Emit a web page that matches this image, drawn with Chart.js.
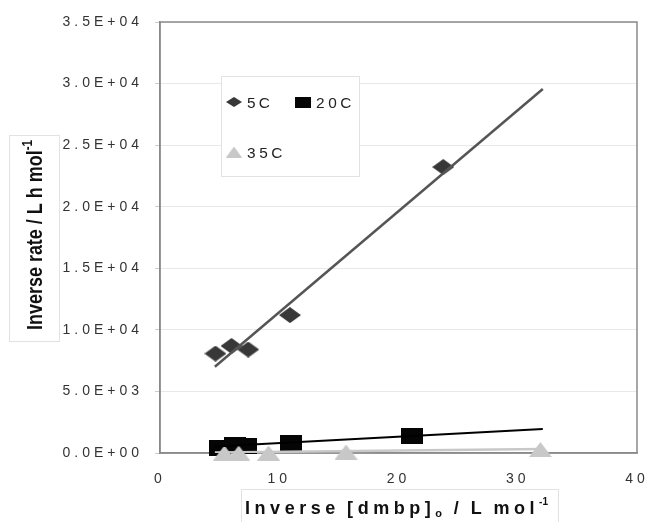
<!DOCTYPE html>
<html>
<head>
<meta charset="utf-8">
<script src="https://cdn.jsdelivr.net/npm/chart.js@4.4.1/dist/chart.umd.min.js"></script>
<style>
  body { margin: 0; background: #fff; }
  canvas { display: block; }
</style>
</head>
<body>
<canvas id="rateChart" width="646" height="522"></canvas>
<script>
// data
const x5C = [4.65, 6.0, 7.4, 10.9, 23.75];
const y5C = [8070, 8690, 8400, 11200, 23220];
const x20C = [5.0, 6.3, 7.2, 11.0, 21.1];
const y20C = [400, 670, 590, 790, 1420];
const x35C = [5.4, 6.6, 9.1, 15.6, 31.9];
const y35C = [0, 0, 0, 80, 280];
// linear fits
const fitX = [4.6, 32.1];
const fit5C = [7000, 29560];
const fit20C = [520, 1950];
const fit35C = [40, 330];

const xTicks = [0, 10, 20, 30, 40];
const yTicks = [0, 5000, 10000, 15000, 20000, 25000, 30000, 35000];
const seriesNames = ['5C', '20C', '35C'];

const FONT = "'Liberation Sans', Arial, sans-serif";

function pts(xs, ys) {
  return xs.map((x, i) => ({ x: x, y: ys[i] }));
}

// marker images (the figure is stretched sideways, so markers are wider than tall)
function marker(shape, w, h, color) {
  const c = document.createElement('canvas');
  c.width = w; c.height = h;
  const g = c.getContext('2d');
  g.fillStyle = color;
  g.beginPath();
  if (shape === 'diamond') {
    g.moveTo(w / 2, 0); g.lineTo(w, h / 2); g.lineTo(w / 2, h); g.lineTo(0, h / 2);
  } else if (shape === 'square') {
    g.rect(0, 0, w, h);
  } else {
    g.moveTo(w / 2, 0); g.lineTo(w, h); g.lineTo(0, h);
  }
  g.closePath();
  g.fill();
  return c;
}

const dia = marker('diamond', 22, 16, '#383838');
const sq = marker('square', 22, 16, '#050505');
const tri = marker('triangle', 23, 15, '#c8c8c8');
const legendMarks = [
  marker('diamond', 16, 10, '#383838'),
  marker('square', 16, 11, '#050505'),
  marker('triangle', 16, 11, '#c8c8c8')
];

function sci(v) {
  if (v === 0) return '0.0E+00';
  const e = Math.floor(Math.log10(v));
  const m = v / Math.pow(10, e);
  return m.toFixed(1) + 'E+' + String(e).padStart(2, '0');
}

// parts: [{t, size, dy, tight}] stretched by sx, letters spaced out to fill width
function drawParts(ctx, parts, x, y, sx, width, weight) {
  const gapOf = (p, ch) => p.tight ? 0 : (ch === ' ' ? 0.5 : 1);
  let glyphs = 0, gaps = 0;
  parts.forEach(p => {
    ctx.font = weight + ' ' + p.size + 'px ' + FONT;
    for (const ch of p.t) {
      glyphs += ctx.measureText(ch).width * sx;
      gaps += gapOf(p, ch);
    }
  });
  const sp = width ? (width - glyphs) / gaps : 0;
  parts.forEach(p => {
    ctx.font = weight + ' ' + p.size + 'px ' + FONT;
    for (const ch of p.t) {
      ctx.save();
      ctx.translate(x, y + (p.dy || 0));
      ctx.scale(sx, 1);
      ctx.fillText(ch, 0, 0);
      ctx.restore();
      x += ctx.measureText(ch).width * sx + gapOf(p, ch) * sp;
    }
  });
}

const decorPlugin = {
  id: 'decor',
  beforeLayout(chart) { chart.ctx.letterSpacing = '4px'; },
  beforeDraw(chart) { chart.ctx.letterSpacing = '4px'; },
  beforeDatasetsDraw(chart) {
    const { ctx, chartArea: a } = chart;
    ctx.save();
    ctx.strokeStyle = '#8a8a8a';
    ctx.lineWidth = 1.5;
    ctx.strokeRect(a.left, a.top, a.right - a.left, a.bottom - a.top);
    ctx.restore();
  },
  afterDraw(chart) {
    const ctx = chart.ctx;
    ctx.save();
    ctx.letterSpacing = '0px';
    ctx.textBaseline = 'alphabetic';
    ctx.textAlign = 'left';

    // legend box
    ctx.fillStyle = '#fff';
    ctx.fillRect(221, 76, 138, 100);
    ctx.strokeStyle = '#e2e2e2';
    ctx.lineWidth = 1;
    ctx.strokeRect(221.5, 76.5, 138, 100);
    const legendPos = [[234, 102], [303, 102], [234, 152]];
    ctx.fillStyle = '#222';
    seriesNames.forEach((name, i) => {
      const [lx, ly] = legendPos[i];
      const m = legendMarks[i];
      ctx.drawImage(m, lx - m.width / 2, ly - m.height / 2);
      drawParts(ctx, [{ t: name, size: 14 }], lx + 13, ly + 5.5, 1.1, name.length === 2 ? 26 : 39, 'normal');
    });

    // y title
    ctx.strokeStyle = '#e2e2e2';
    ctx.strokeRect(9.5, 135.5, 50, 206);
    ctx.fillStyle = '#111';
    ctx.font = 'bold 17px ' + FONT;
    const yMain = 'Inverse rate / L h mol';
    const mainW = ctx.measureText(yMain).width;
    ctx.font = 'bold 11px ' + FONT;
    const supW = ctx.measureText('-1').width;
    const along = 190 / (mainW + supW);
    ctx.translate(41.5, 330);
    ctx.rotate(-Math.PI / 2);
    ctx.scale(along, 1.25);
    ctx.font = 'bold 17px ' + FONT;
    ctx.fillText(yMain, 0, 0);
    ctx.font = 'bold 11px ' + FONT;
    ctx.fillText('-1', mainW, -8);
    ctx.setTransform(1, 0, 0, 1, 0, 0);

    // x title
    ctx.strokeRect(241.5, 489.5, 317, 40);
    drawParts(ctx, [
      { t: 'Inverse [dmbp]', size: 18 },
      { t: 'o', size: 11, dy: 3 },
      { t: ' / L mol', size: 18 },
      { t: '-1', size: 10, dy: -9, tight: true }
    ], 245, 514, 1.0, 303, 'bold');
    ctx.restore();
  }
};

new Chart(document.getElementById('rateChart'), {
  type: 'scatter',
  data: {
    datasets: [
      { label: '5C', data: pts(x5C, y5C), pointStyle: dia, order: 3, clip: false },
      { label: '20C', data: pts(x20C, y20C), pointStyle: sq, order: 2, clip: false },
      { label: '35C', data: pts(x35C, y35C), pointStyle: tri, order: 1, clip: false },
      { label: '5C fit', type: 'line', data: pts(fitX, fit5C), borderColor: '#555', borderWidth: 2.5, pointRadius: 0, order: 0 },
      { label: '20C fit', type: 'line', data: pts(fitX, fit20C), borderColor: '#000', borderWidth: 2, pointRadius: 0, order: 0 },
      { label: '35C fit', type: 'line', data: pts(fitX, fit35C), borderColor: '#c8c8c8', borderWidth: 2.5, pointRadius: 0, order: 0 }
    ]
  },
  options: {
    responsive: false,
    animation: false,
    layout: { padding: { left: 0, top: 22, right: 9, bottom: 0 } },
    plugins: { legend: { display: false }, tooltip: { enabled: false } },
    scales: {
      x: {
        type: 'linear',
        min: 0, max: 40,
        afterBuildTicks(s) { s.ticks = xTicks.map(v => ({ value: v })); },
        afterFit(s) { s.height = 69; s.paddingLeft = 0; s.paddingRight = 0; },
        grid: { display: false },
        border: { color: '#8a8a8a', width: 1.5 },
        ticks: { padding: 10, maxRotation: 0, color: '#333', font: { family: FONT, size: 14 } }
      },
      y: {
        min: 0, max: 35000,
        afterBuildTicks(s) { s.ticks = yTicks.map(v => ({ value: v })); },
        afterFit(s) { s.width = 160; s.paddingTop = 0; s.paddingBottom = 0; },
        grid: { color: '#e8e8e8', tickColor: '#ccc', tickLength: 5 },
        border: { color: '#8a8a8a', width: 1.5 },
        ticks: { padding: 12, color: '#333', font: { family: FONT, size: 14 }, callback: v => sci(v) }
      }
    }
  },
  plugins: [decorPlugin]
});
</script>
</body>
</html>
